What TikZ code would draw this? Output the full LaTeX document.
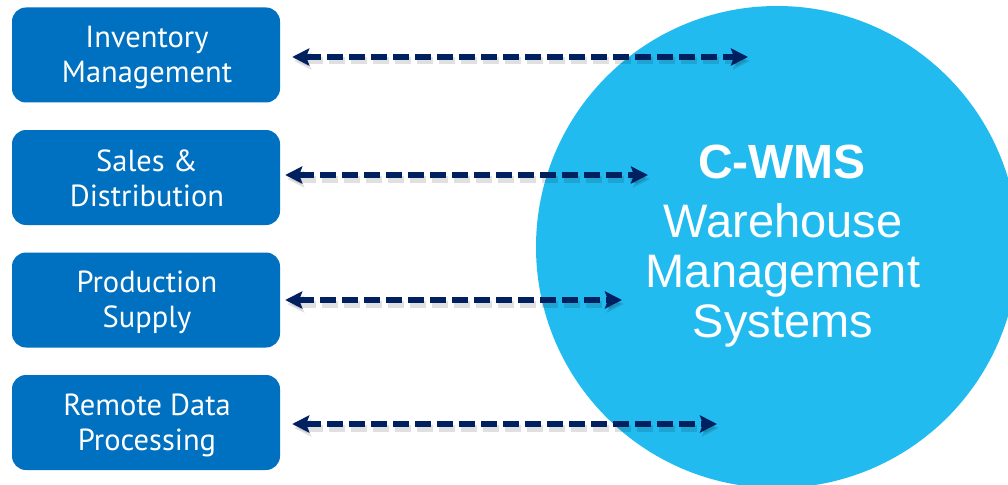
\documentclass[tikz,border=0pt]{standalone}
\usepackage{fontspec}
\setmainfont{PT Sans}
\newfontfamily\arialfont{Liberation Sans}
\usetikzlibrary{arrows.meta}
\definecolor{boxblue}{HTML}{0070C0}
\definecolor{circblue}{HTML}{22BBF0}
\definecolor{navyline}{HTML}{002060}
\begin{document}
\begin{tikzpicture}[x=1pt,y=-1pt,
  sysbox/.style={fill=boxblue, rounded corners=14pt, minimum width=268pt, minimum height=95pt, inner sep=0pt},
  systext/.style={text=white, align=center, font=\fontsize{30.5}{35}\selectfont, inner sep=0pt},
  wmstext/.style={text=white, anchor=base, inner sep=0pt, font=\arialfont\fontsize{47}{50}\selectfont},
  conn/.style={navyline, line width=6pt, dash pattern=on 16pt off 6pt,
    {Stealth[length=17pt,width=17pt,inset=3pt]}-{Stealth[length=17pt,width=17pt,inset=3pt]}, shorten <=12pt},
  connshadow/.style={conn, black, opacity=0.12, line width=7pt, transform canvas={xshift=2pt,yshift=-4pt}}]
\useasboundingbox (0,0) rectangle (1008,484);
\clip (0,0) rectangle (1008,484);
\node[circle, fill=circblue, minimum size=482pt, inner sep=0pt] (wms) at (777,247) {};
\node[wmstext, font=\arialfont\bfseries\fontsize{48}{50}\selectfont] (wmsa) at (782,178) {C-WMS};
\node[wmstext] (wmsb) at (783,237) {Warehouse};
\node[wmstext] (wmsc) at (783,287) {Management};
\node[wmstext] (wmsd) at (783,337) {Systems};

\node[sysbox] (b1) at (146,55) {};
\node[sysbox] (b2) at (146,177.5) {};
\node[sysbox] (b3) at (146,300) {};
\node[sysbox] (b4) at (146,422.5) {};
\node[systext] (t1) at (147,58) {Inventory\\Management};
\node[systext] (t2) at (147,178) {Sales \&\\Distribution};
\node[systext] (t3) at (147,302) {Production\\Supply};
\node[systext] (t4) at (147,425) {Remote Data\\Processing};

\coordinate (e1) at (748,57);
\coordinate (e2) at (648,175);
\coordinate (e3) at (622,300);
\coordinate (e4) at (717,424);
\draw[connshadow] (b1.east |- e1) -- (e1);
\draw[connshadow, shorten <=5pt] (b2.east |- e2) -- (e2);
\draw[connshadow, shorten <=5pt] (b3.east |- e3) -- (e3);
\draw[connshadow] (b4.east |- e4) -- (e4);
\draw[conn] (b1.east |- e1) -- (e1);
\draw[conn, shorten <=5pt] (b2.east |- e2) -- (e2);
\draw[conn, shorten <=5pt] (b3.east |- e3) -- (e3);
\draw[conn] (b4.east |- e4) -- (e4);
\end{tikzpicture}
\end{document}
